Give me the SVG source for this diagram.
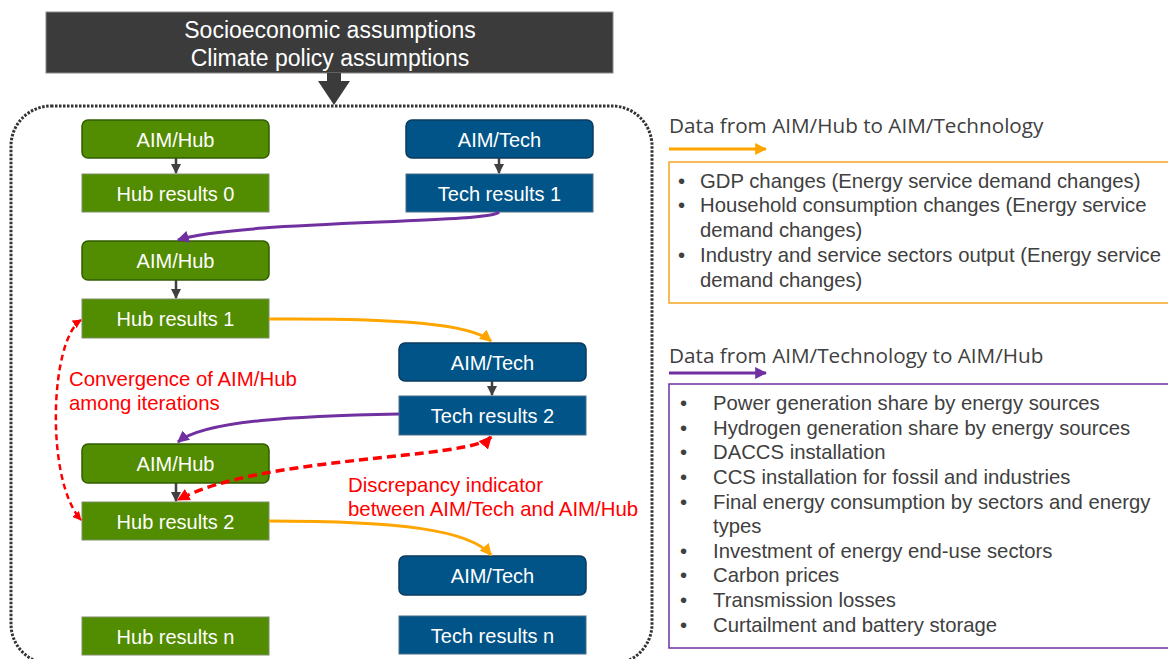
<svg xmlns="http://www.w3.org/2000/svg" width="1168" height="659" viewBox="0 0 1168 659">
  <style>
    .lbl { font-family: "Liberation Sans", Arial, sans-serif; font-size: 20px; fill: #ffffff; text-anchor: middle; }
    .top { font-family: "Liberation Sans", Arial, sans-serif; font-size: 23px; fill: #ffffff; text-anchor: middle; }
    .hub { fill: #528c00; stroke: #335c00; stroke-width: 1.5; }
    .hubres { fill: #528c00; stroke: #7d8f6a; stroke-width: 1; }
    .tech { fill: #005488; stroke: #0a3a5e; stroke-width: 1.5; }
    .techres { fill: #005488; stroke: #4b6c88; stroke-width: 1; }
    .note { font-family: "Liberation Sans", Arial, sans-serif; font-size: 20.4px; fill: #ff0000; }
    .head { font-family: "Open Sans", "Noto Sans", sans-serif; font-size: 20.7px; fill: #404040; }
    .item { font-family: "Liberation Sans", Arial, sans-serif; font-size: 20.3px; fill: #404040; }
    .step { stroke: #404040; stroke-width: 2.5; fill: none; marker-end: url(#ah-dark); }
    .toTech { stroke: #ffa500; stroke-width: 3; fill: none; marker-end: url(#ah-orange); }
    .toHub { stroke: #7030a0; stroke-width: 3; fill: none; marker-end: url(#ah-purple); }
    .conv { stroke: #ff0000; stroke-width: 2.5; stroke-dasharray: 6 4; fill: none; marker-start: url(#ah-red); marker-end: url(#ah-red); }
    .disc { stroke: #ff0000; stroke-width: 3.5; stroke-dasharray: 9 5; fill: none; marker-start: url(#ah-red); marker-end: url(#ah-red); }
  </style>
  <defs>
    <marker id="ah-dark" viewBox="0 0 10 10" refX="9" refY="5" markerWidth="4" markerHeight="4" orient="auto-start-reverse">
      <path d="M0,0 L10,5 L0,10 z" fill="#404040"/>
    </marker>
    <marker id="ah-orange" viewBox="0 0 10 10" refX="9" refY="5" markerWidth="4" markerHeight="4" orient="auto-start-reverse">
      <path d="M0,0 L10,5 L0,10 z" fill="#ffa500"/>
    </marker>
    <marker id="ah-purple" viewBox="0 0 10 10" refX="9" refY="5" markerWidth="4" markerHeight="4" orient="auto-start-reverse">
      <path d="M0,0 L10,5 L0,10 z" fill="#7030a0"/>
    </marker>
    <marker id="ah-red" viewBox="0 0 10 10" refX="9" refY="5" markerWidth="3.6" markerHeight="3.6" orient="auto-start-reverse">
      <path d="M0,0 L10,5 L0,10 z" fill="#ff0000"/>
    </marker>
  </defs>

  <rect width="1168" height="659" fill="#ffffff"/>

  <!-- assumptions header with block arrow -->
  <g id="assumptions">
    <rect x="46" y="12" width="567" height="61" fill="#3b3b3b" stroke="#8a8a8a" stroke-width="1"/>
    <text class="top" x="330" y="38">Socioeconomic assumptions</text>
    <text class="top" x="330" y="66">Climate policy assumptions</text>
    <polygon points="327,73 341,73 341,81 350,81 334,105 318,81 327,81" fill="#3b3b3b"/>
  </g>

  <!-- iteration frame -->
  <g id="frame">
    <rect x="11" y="106" width="641" height="558" rx="40" ry="40" fill="none" stroke="#333333" stroke-width="3" stroke-dasharray="2.5 1.5"/>
  </g>

  <!-- iteration 0 -->
  <g id="hub0">
    <rect class="hub" x="82" y="120" width="187" height="38" rx="6"/>
    <text class="lbl" x="175.5" y="146.5">AIM/Hub</text>
  </g>
  <g id="hubres0">
    <rect class="hubres" x="82" y="174" width="187" height="38"/>
    <text class="lbl" x="175.5" y="200.5">Hub results 0</text>
  </g>
  <g id="tech1">
    <rect class="tech" x="406" y="120" width="187" height="38" rx="6"/>
    <text class="lbl" x="499.5" y="146.5">AIM/Tech</text>
  </g>
  <g id="techres1">
    <rect class="techres" x="406" y="174" width="187" height="38"/>
    <text class="lbl" x="499.5" y="200.5">Tech results 1</text>
  </g>

  <!-- iteration 1 -->
  <g id="hub1">
    <rect class="hub" x="82" y="241" width="187" height="39" rx="6"/>
    <text class="lbl" x="175.5" y="268">AIM/Hub</text>
  </g>
  <g id="hubres1">
    <rect class="hubres" x="82" y="299" width="187" height="39"/>
    <text class="lbl" x="175.5" y="326">Hub results 1</text>
  </g>
  <g id="tech2">
    <rect class="tech" x="399" y="343" width="187" height="38" rx="6"/>
    <text class="lbl" x="492.5" y="369.5">AIM/Tech</text>
  </g>
  <g id="techres2">
    <rect class="techres" x="399" y="396" width="187" height="39"/>
    <text class="lbl" x="492.5" y="423">Tech results 2</text>
  </g>

  <!-- iteration 2 -->
  <g id="hub2">
    <rect class="hub" x="82" y="444" width="187" height="39" rx="6"/>
    <text class="lbl" x="175.5" y="471">AIM/Hub</text>
  </g>
  <g id="hubres2">
    <rect class="hubres" x="82" y="502" width="187" height="38"/>
    <text class="lbl" x="175.5" y="528.5">Hub results 2</text>
  </g>
  <g id="tech3">
    <rect class="tech" x="399" y="556" width="187" height="39" rx="6"/>
    <text class="lbl" x="492.5" y="583">AIM/Tech</text>
  </g>

  <!-- final iteration -->
  <g id="hubresn">
    <rect class="hubres" x="82" y="617" width="187" height="38"/>
    <text class="lbl" x="175.5" y="643.5">Hub results n</text>
  </g>
  <g id="techresn">
    <rect class="techres" x="399" y="616" width="187" height="38"/>
    <text class="lbl" x="492.5" y="642.5">Tech results n</text>
  </g>

  <!-- connectors -->
  <g id="connectors">
    <path class="step" d="M176,158 V173"/>
    <path class="step" d="M499,158 V173"/>
    <path class="step" d="M176,280 V298"/>
    <path class="step" d="M492,381 V395"/>
    <path class="step" d="M176,483 V501"/>
    <path class="toHub" d="M499,212 C490,224 240,220 178,240"/>
    <path class="toTech" d="M269,319 C400,318 470,324 491,341"/>
    <path class="toHub" d="M399,414 C300,416 205,420 178,442"/>
    <path class="toTech" d="M269,521 C400,521 470,530 491,555"/>
    <path class="conv" d="M81,320 C50,340 45,480 81,520"/>
    <path class="disc" d="M491,437 C470,460 260,455 178,500"/>
  </g>

  <!-- annotations -->
  <g id="convergence-note">
    <text class="note" x="69" y="386">Convergence of AIM/Hub</text>
    <text class="note" x="69" y="410">among iterations</text>
  </g>
  <g id="discrepancy-note">
    <text class="note" x="348" y="492">Discrepancy indicator</text>
    <text class="note" x="348" y="516">between AIM/Tech and AIM/Hub</text>
  </g>

  <!-- legend: data exchanged from AIM/Hub to AIM/Technology -->
  <g id="legend-hub-to-tech">
    <text class="head" x="669" y="133">Data from AIM/Hub to AIM/Technology</text>
    <path class="toTech" d="M669,149 H766"/>
    <rect x="669" y="162" width="510" height="141" fill="none" stroke="#f5a623" stroke-width="1.5"/>
    <text class="item" x="678" y="188">•</text>
    <text class="item" x="700" y="188">GDP changes (Energy service demand changes)</text>
    <text class="item" x="678" y="212">•</text>
    <text class="item" x="700" y="212">Household consumption changes (Energy service</text>
    <text class="item" x="700" y="237">demand changes)</text>
    <text class="item" x="678" y="262">•</text>
    <text class="item" x="700" y="262">Industry and service sectors output (Energy service</text>
    <text class="item" x="700" y="287">demand changes)</text>
  </g>

  <!-- legend: data exchanged from AIM/Technology to AIM/Hub -->
  <g id="legend-tech-to-hub">
    <text class="head" x="669" y="363">Data from AIM/Technology to AIM/Hub</text>
    <path class="toHub" d="M669,373 H766"/>
    <rect x="669" y="384" width="510" height="264" fill="none" stroke="#7030a0" stroke-width="1.5"/>
    <g class="item">
      <text x="680" y="410">•</text><text x="713" y="410">Power generation share by energy sources</text>
      <text x="680" y="435">•</text><text x="713" y="435">Hydrogen generation share by energy sources</text>
      <text x="680" y="459">•</text><text x="713" y="459">DACCS installation</text>
      <text x="680" y="484">•</text><text x="713" y="484">CCS installation for fossil and industries</text>
      <text x="680" y="509">•</text><text x="713" y="509">Final energy consumption by sectors and energy</text>
      <text x="713" y="533">types</text>
      <text x="680" y="558">•</text><text x="713" y="558">Investment of energy end-use sectors</text>
      <text x="680" y="582">•</text><text x="713" y="582">Carbon prices</text>
      <text x="680" y="607">•</text><text x="713" y="607">Transmission losses</text>
      <text x="680" y="632">•</text><text x="713" y="632">Curtailment and battery storage</text>
    </g>
  </g>
</svg>
